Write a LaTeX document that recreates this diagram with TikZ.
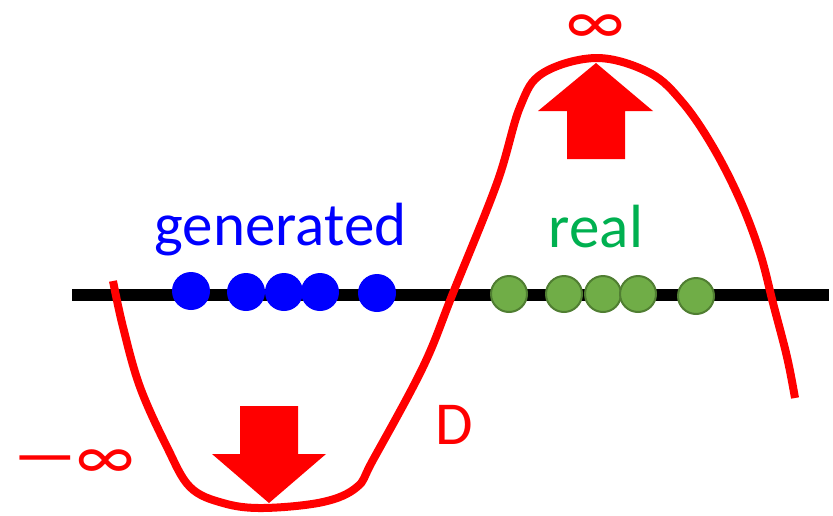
\documentclass[tikz,border=0pt]{standalone}
\usepackage{fontspec}
\usepackage{graphicx}
\setmainfont{Carlito}
\definecolor{cRed}{HTML}{FF0000}
\definecolor{cBlue}{HTML}{0000FF}
\definecolor{cGreenTxt}{HTML}{00B050}
\definecolor{cGreenFill}{HTML}{70AD47}
\definecolor{cGreenLine}{HTML}{507E32}
\begin{document}
\begin{tikzpicture}[x=1pt,y=-1pt,
  gendot/.style={circle,fill=cBlue,inner sep=0pt,minimum size=38pt},
  realdot/.style={circle,fill=cGreenFill,draw=cGreenLine,line width=2pt,inner sep=0pt,minimum size=36pt},
  lbl/.style={inner sep=0pt,font=\fontsize{61}{61}\selectfont},
  inflbl/.style={inner sep=0pt,font=\fontsize{68}{68}\selectfont},
  bigarrow/.style={fill=cRed,draw=none}]
\useasboundingbox (0,0) rectangle (833,515);
% axis
\coordinate (axL) at (72,295);
\coordinate (axR) at (829,295);
\draw[line width=12pt] (axL) -- (axR);
% generated dots
\node[gendot] (g1) at (191,291) {};
\node[gendot] (g2) at (246,292) {};
\node[gendot] (g3) at (284,292) {};
\node[gendot] (g4) at (320,292) {};
\node[gendot] (g5) at (377,293) {};
% real dots
\node[realdot] (r1) at (509,294) {};
\node[realdot] (r2) at (564,294) {};
\node[realdot] (r3) at (603,294) {};
\node[realdot] (r4) at (638,294) {};
\node[realdot] (r5) at (696,296) {};
% labels
\node[lbl,text=cBlue,anchor=base] (gen) at (280.5,245) {generated};
\node[lbl,text=cGreenTxt,anchor=base] (real) at (596,247) {real};
\node[lbl,text=cRed,anchor=base west] (D) at (435,444) {D};
\node[inflbl,text=cRed] (inf) at (595,30) {∞};
\node[inflbl,text=cRed] (minf) at (73,465) {\scalebox{2}[1]{−}\kern-2pt∞};
% curve D
\draw[cRed,line width=8pt] plot[smooth,tension=0.6] coordinates {
 (113,281) (123,327) (140,387) (167,447) (190,487) (223,503) (263,508)
 (323,502) (357,487) (373,460) (423,367) (453,293) (497,183) (520,107)
 (543,73) (597,58) (650,73) (683,103) (713,147) (740,200) (760,253)
 (773,303) (787,357) (795,398)};
% big arrows
\fill[bigarrow] (240,406) -- (298,406) -- (298,454) -- (326,454) -- (269,503)
  -- (212,454) -- (240,454) -- cycle;
\fill[bigarrow] (567,159) -- (625,159) -- (625,111) -- (653,111) -- (596,63)
  -- (538,111) -- (567,111) -- cycle;
\end{tikzpicture}
\end{document}
